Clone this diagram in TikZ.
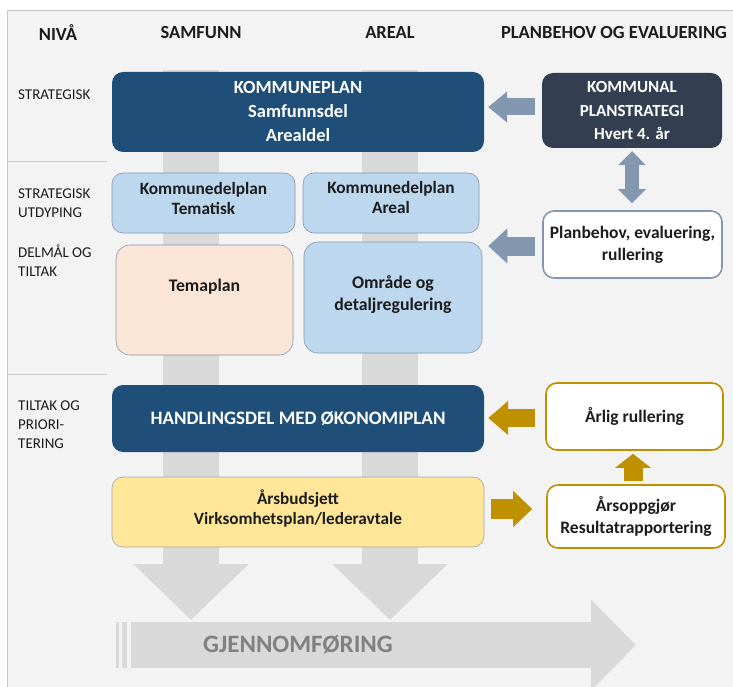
\documentclass[tikz,border=0pt]{standalone}
\usepackage{fontspec}
\setmainfont{Carlito}
\usetikzlibrary{arrows.meta,calc}
\definecolor{panelbg}{HTML}{F3F3F3}
\definecolor{panelline}{HTML}{C8C8C8}
\definecolor{dkblue}{HTML}{1F4E79}
\definecolor{slate}{HTML}{333F50}
\definecolor{ltblue}{HTML}{BDD7EE}
\definecolor{peach}{HTML}{FBE5D6}
\definecolor{yel}{HTML}{FFE699}
\definecolor{arrblue}{HTML}{8497B0}
\definecolor{gold}{HTML}{BF9000}
\definecolor{barg}{HTML}{D9D9D9}
\definecolor{txt}{HTML}{1C1C1C}
\definecolor{thinb}{HTML}{8497B0}
\tikzset{
  box/.style={rectangle, rounded corners=11pt, align=center, inner sep=0pt,
    text=txt, font=\bfseries\fontsize{17.5}{22}\selectfont},
  darkbox/.style={box, text=white},
  lightbox/.style={box, draw=thinb, line width=0.6pt},
  whitebox/.style={box, fill=white, line width=1.6pt},
  hdr/.style={font=\bfseries\fontsize{18.5}{22}\selectfont, text=txt},
  lvl/.style={anchor=west, align=left, font=\fontsize{15}{19}\selectfont, text=txt, inner sep=0pt},
  sep/.style={draw=panelline, line width=1pt},
  blockarr/.style={line width=#1, line cap=butt},
}
\begin{document}
\begin{tikzpicture}[x=1pt,y=-1pt]
\useasboundingbox (0,0) rectangle (733,687);
\fill[white] (0,0) rectangle (733,687);
\fill[panelbg] (7,11) rectangle (733,687);
\draw[panelline, line width=1pt] (7,687) -- (7,11) -- (733,11);

% headers
\node[hdr] (hniva) at (58,33) {NIVÅ};
\node[hdr] (hsam) at (201,33) {SAMFUNN};
\node[hdr] (hare) at (390,33) {AREAL};
\node[hdr] (hplan) at (614,33) {PLANBEHOV OG EVALUERING};

% level labels
\node[lvl] (l1) at (18,95) {STRATEGISK};
\node[lvl] (l2) at (18,203) {STRATEGISK\\UTDYPING};
\node[lvl] (l3) at (18,261) {DELMÅL OG\\TILTAK};
\node[lvl] (l4) at (18,425) {TILTAK OG\\PRIORI-\\TERING};
\draw[sep] (7,162) -- (107,162);
\draw[sep] (7,374) -- (107,374);

% background flow arrows
\coordinate (sa0) at (191,70);
\coordinate (sa1) at (191,620);
\coordinate (ar0) at (390,70);
\coordinate (ar1) at (390,620);
\draw[barg, blockarr=56pt, -{Triangle[width=112pt,length=56pt]}] (sa0) -- (sa1);
\draw[barg, blockarr=56pt, -{Triangle[width=112pt,length=56pt]}] (ar0) -- (ar1);
\coordinate (g0) at (131,645);
\coordinate (g1) at (636,645);
\draw[barg, blockarr=46pt, -{Triangle[width=88pt,length=45pt]}] (g0) -- (g1);
\fill[barg] (116,622) rectangle (119,668);
\fill[barg] (122,622) rectangle (127,668);
\node[font=\bfseries\fontsize{25}{30}\selectfont, text=gray] (gj) at (298,645) {GJENNOMFØRING};

% main boxes
\node[darkbox, fill=dkblue, minimum width=372pt, minimum height=80pt,
  font=\bfseries\fontsize{18.5}{24}\selectfont] (kp) at (298,112)
  {KOMMUNEPLAN\\Samfunnsdel\\Arealdel};
\node[darkbox, fill=slate, minimum width=180pt, minimum height=75pt,
  font=\bfseries\fontsize{17}{23.5}\selectfont] (ks) at (632,110.5)
  {KOMMUNAL\\PLANSTRATEGI\\Hvert 4. år};
\node[lightbox, fill=ltblue, minimum width=183pt, minimum height=60pt] (kt) at (203.5,203) {};
\node[box, font=\bfseries\fontsize{17.3}{20}\selectfont] (ktt) at ($(kt.center)+(0,-5)$)
  {Kommunedelplan\\Tematisk};
\node[lightbox, fill=ltblue, minimum width=176pt, minimum height=60pt] (ka) at (391,203) {};
\node[box, font=\bfseries\fontsize{17.3}{20}\selectfont] (kat) at ($(ka.center)+(0,-6)$)
  {Kommunedelplan\\Areal};
\node[lightbox, fill=peach, rounded corners=14pt, minimum width=177pt, minimum height=110pt] (tp) at (204.5,300) {};
\node[box, font=\bfseries\fontsize{17.7}{22}\selectfont] (tpt) at ($(tp.center)+(0,-13)$) {Temaplan};
\node[lightbox, fill=ltblue, rounded corners=14pt, minimum width=178pt, minimum height=111pt,
  font=\bfseries\fontsize{17.8}{22}\selectfont] (om) at (393,297.5) {};
\node[box, font=\bfseries\fontsize{17.8}{22}\selectfont] (omt) at ($(om.center)+(0,-3)$)
  {Område og\\detaljregulering};
\node[whitebox, draw=arrblue, minimum width=179pt, minimum height=67pt] (pb) at (632.5,244.5)
  {Planbehov, evaluering,\\rullering};
\node[darkbox, fill=dkblue, minimum width=372pt, minimum height=67pt,
  font=\bfseries\fontsize{19}{24}\selectfont] (hd) at (298,418.5)
  {HANDLINGSDEL MED ØKONOMIPLAN};
\node[lightbox, draw=gray!70, fill=yel, minimum width=372pt, minimum height=70pt] (ab) at (298,512) {};
\node[box, font=\bfseries\fontsize{17.2}{20}\selectfont] (abt) at ($(ab.center)+(0,-4)$)
  {Årsbudsjett\\Virksomhetsplan/lederavtale};
\node[whitebox, draw=gold, minimum width=177pt, minimum height=67pt] (arl) at (634.5,416.5)
  {Årlig rullering};
\node[whitebox, draw=gold, minimum width=178pt, minimum height=63pt] (ao) at (636,516.5)
  {Årsoppgjør\\Resultatrapportering};

% connectors
\draw[arrblue, blockarr=17pt, -{Triangle[width=30pt,length=19pt]}, shorten <=7pt, shorten >=4pt]
  ([yshift=3.5pt]ks.west) -- ([yshift=3.5pt]ks.west -| kp.east);
\draw[arrblue, blockarr=14pt, {Triangle[width=27pt,length=14pt]}-{Triangle[width=27pt,length=14pt]}, shorten <=3pt, shorten >=7pt]
  (ks.south) -- (ks.south |- pb.north);
\draw[arrblue, blockarr=19pt, -{Triangle[width=34pt,length=19pt]}, shorten <=7pt, shorten >=6pt]
  ([yshift=-1.5pt]pb.west) -- ([yshift=-1.5pt]pb.west -| om.east);
\draw[gold, blockarr=18pt, -{Triangle[width=33pt,length=20pt]}, shorten <=10pt, shorten >=4pt]
  ([yshift=-1.5pt]arl.west) -- ([yshift=-1.5pt]arl.west -| hd.east);
\draw[gold, blockarr=20pt, -{Triangle[width=35pt,length=19pt]}, shorten <=7pt, shorten >=14pt]
  ([yshift=3pt]ab.east) -- ([yshift=3pt]ab.east -| ao.west);
\draw[gold, blockarr=19pt, -{Triangle[width=35pt,length=14pt]}, shorten <=3pt, shorten >=3pt]
  ([xshift=-3pt]ao.north) -- ([xshift=-3pt]ao.north |- arl.south);
\end{tikzpicture}
\end{document}
